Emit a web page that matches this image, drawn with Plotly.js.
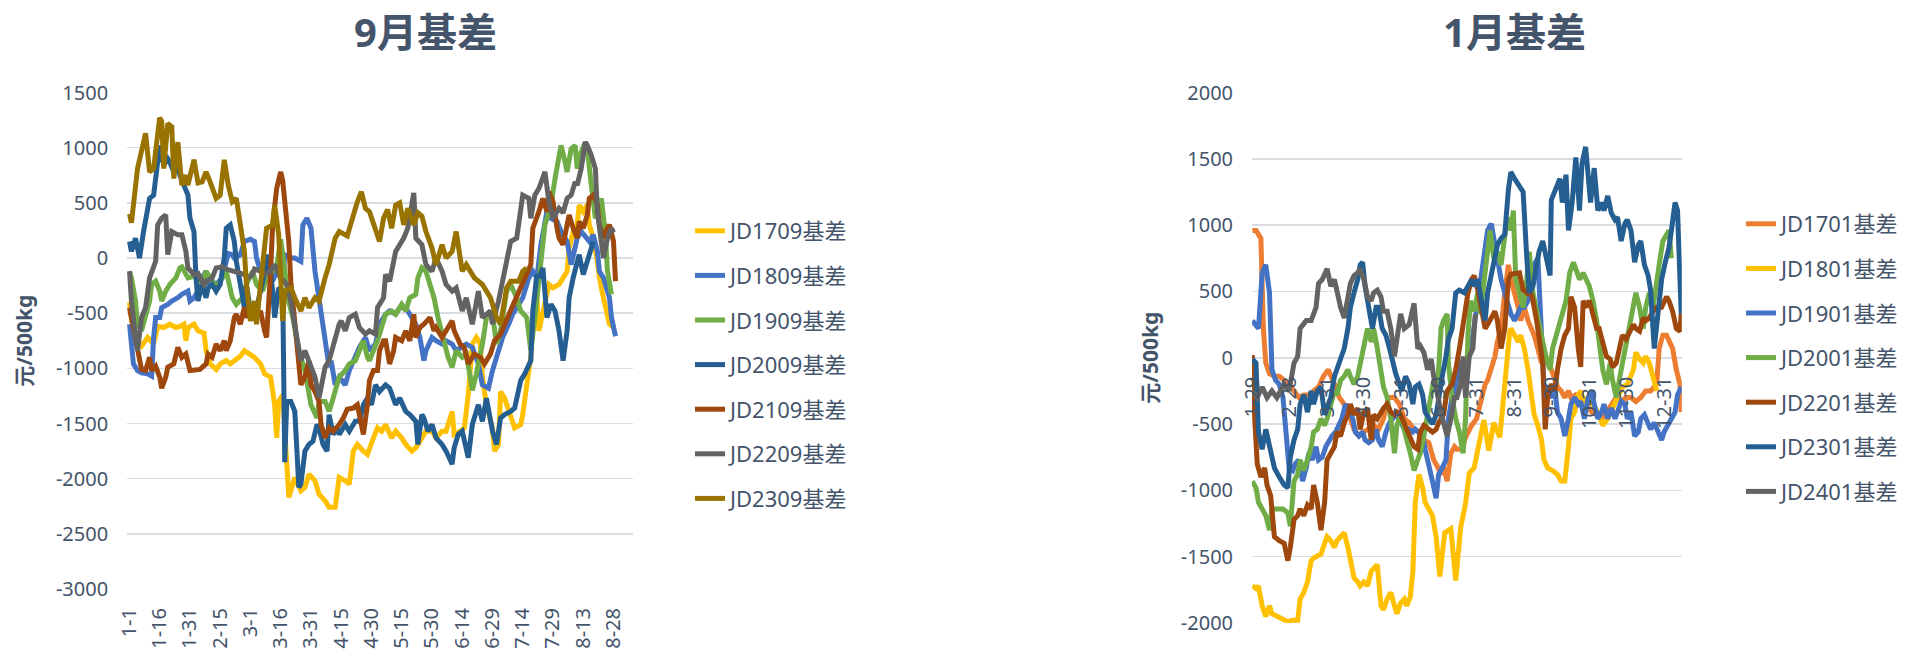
<!DOCTYPE html>
<html><head><meta charset="utf-8">
<script src="https://cdn.plot.ly/plotly-3.0.1.min.js"></script>
<style>html,body{margin:0;padding:0;background:#fff}#chart{width:1905px;height:650px}</style>
</head><body><div id="chart"></div>
<script>
// ---------- 9月基差 (x = day offset from 1-1, leap-year calendar) ----------
const ticks9Days = [0,15,30,45,60,75,90,105,120,135,150,165,180,195,210,225,240];
const ticks9Text = ['1-1','1-16','1-31','2-15','3-1','3-16','3-31','4-15','4-30','5-15','5-30','6-14','6-29','7-14','7-29','8-13','8-28'];
const yTicks9 = [-3000,-2500,-2000,-1500,-1000,-500,0,500,1000,1500];
const yTicks9Text = ['-3000','-2500','-2000','-1500','-1000','-500','0','500','1000','1500'];

const jd1709 = [[0,-400],[1,-550],[3,-750],[6,-800],[9,-720],[12,-780],[14,-620],[17,-630],[20,-600],[23,-630],[25,-620],[27,-600],[28,-750],[29,-630],[32,-600],[34,-660],[37,-680],[38,-840],[40,-960],[43,-1010],[45,-960],[48,-930],[50,-960],[52,-930],[55,-890],[57,-840],[60,-870],[62,-900],[65,-960],[67,-1050],[70,-1080],[72,-1330],[73,-1630],[74,-1300],[76,-1240],[77,-1500],[79,-2170],[82,-1990],[85,-2110],[87,-2080],[89,-1960],[92,-2020],[94,-2140],[97,-2200],[99,-2260],[102,-2260],[104,-1990],[107,-2020],[109,-2050],[111,-1750],[113,-1690],[116,-1750],[118,-1780],[121,-1630],[123,-1540],[125,-1570],[127,-1510],[130,-1630],[132,-1570],[135,-1630],[137,-1690],[140,-1750],[142,-1720],[145,-1630],[147,-1570],[150,-1570],[152,-1630],[155,-1570],[157,-1570],[160,-1390],[161,-1600],[164,-1570],[166,-1540],[168,-1240],[170,-780],[172,-720],[174,-780],[175,-1080],[177,-1330],[180,-1540],[181,-1750],[183,-1690],[184,-1210],[186,-1270],[189,-1450],[191,-1540],[194,-1510],[195,-1420],[197,-1150],[199,-900],[200,-540],[202,-360],[203,-660],[205,-480],[207,-300],[208,-240],[210,-270],[213,-240],[215,-180],[217,-120],[218,90],[220,240],[222,300],[223,480],[225,420],[227,480],[228,300],[230,180],[232,-30],[233,-180],[235,-360],[237,-540],[238,-600],[240,-630]];

const jd1809 = [[0,-600],[1,-840],[2,-960],[4,-1020],[6,-1040],[9,-1050],[11,-1070],[12,-720],[13,-540],[15,-540],[16,-450],[19,-420],[21,-390],[24,-360],[26,-330],[29,-300],[30,-390],[32,-360],[34,-300],[35,-210],[38,-120],[39,-240],[41,-210],[43,-240],[46,-180],[48,-30],[49,40],[51,30],[52,0],[55,30],[57,150],[60,170],[62,150],[63,0],[65,-120],[67,-60],[68,-120],[71,-210],[73,-120],[76,-210],[77,30],[80,0],[82,0],[85,-30],[86,300],[88,360],[90,270],[92,-120],[94,-360],[95,-540],[97,-780],[99,-990],[100,-930],[102,-1150],[104,-1080],[107,-1150],[109,-1020],[112,-900],[114,-810],[117,-720],[119,-840],[122,-780],[124,-600],[127,-510],[129,-480],[132,-510],[134,-450],[137,-450],[139,-510],[142,-600],[144,-720],[146,-930],[147,-840],[150,-720],[152,-750],[155,-780],[157,-750],[160,-780],[162,-840],[165,-810],[167,-780],[170,-810],[173,-960],[175,-1150],[178,-1180],[180,-1020],[183,-840],[185,-720],[188,-600],[190,-510],[193,-420],[195,-360],[197,-240],[198,-180],[200,-120],[202,-180],[204,120],[207,420],[209,360],[212,330],[214,240],[217,150],[219,-60],[222,180],[224,240],[227,180],[228,150],[230,210],[232,60],[233,-120],[235,-180],[236,-240],[238,-360],[239,-540],[240,-660],[241,-710]];

const jd1909 = [[0,-120],[1,-180],[3,-390],[4,-600],[6,-660],[8,-510],[10,-390],[11,-240],[13,-210],[15,-300],[16,-390],[18,-300],[20,-240],[23,-180],[25,-90],[26,-80],[29,-180],[31,-170],[34,-170],[36,-240],[38,-120],[41,-210],[43,-270],[46,-180],[48,-120],[51,-360],[53,-420],[56,-360],[58,-240],[61,-120],[63,-240],[66,-300],[68,-180],[71,-120],[73,-80],[75,170],[77,-120],[79,-390],[81,-540],[84,-840],[87,-1020],[89,-1200],[90,-1330],[93,-1450],[94,-1300],[97,-1300],[99,-1390],[101,-1270],[103,-1150],[104,-1080],[107,-1020],[109,-960],[112,-930],[114,-840],[116,-750],[118,-900],[119,-930],[121,-840],[123,-750],[126,-570],[127,-510],[130,-480],[132,-510],[135,-420],[137,-480],[139,-360],[142,-330],[143,-180],[145,-90],[147,-120],[149,-240],[151,-360],[153,-540],[156,-780],[158,-900],[160,-990],[162,-840],[165,-900],[167,-870],[169,-1080],[170,-1200],[172,-1050],[175,-780],[177,-540],[180,-510],[182,-780],[184,-660],[187,-300],[189,-240],[192,-360],[194,-480],[197,-540],[199,-840],[201,-540],[203,-240],[204,0],[206,300],[208,420],[209,480],[211,720],[213,960],[214,1020],[216,870],[217,780],[219,990],[221,1020],[222,810],[224,960],[226,1050],[227,990],[229,660],[231,360],[232,390],[234,540],[236,210],[237,-120],[239,-330]];

const jd2009 = [[0,150],[1,60],[3,180],[4,60],[5,0],[7,240],[9,420],[10,540],[12,570],[14,870],[15,1020],[17,840],[19,900],[20,870],[22,780],[24,830],[25,750],[27,660],[29,570],[30,360],[32,240],[33,-180],[34,-390],[36,-240],[38,-360],[39,-270],[41,-240],[43,-300],[45,-240],[47,0],[48,270],[50,300],[52,150],[53,-30],[55,-240],[57,-450],[58,-240],[60,-480],[62,-540],[64,-390],[66,-240],[67,-120],[69,30],[71,-300],[72,-540],[74,-270],[76,-300],[77,-1850],[78,-1300],[80,-1300],[82,-1390],[84,-2080],[85,-2050],[87,-1750],[89,-1690],[91,-1660],[93,-1510],[94,-1540],[96,-1690],[98,-1750],[99,-1420],[101,-1600],[103,-1540],[104,-1600],[107,-1510],[109,-1570],[112,-1480],[114,-1480],[116,-1330],[118,-1270],[120,-1330],[122,-1150],[124,-1210],[127,-1150],[129,-1180],[132,-1330],[134,-1270],[137,-1390],[139,-1420],[142,-1480],[143,-1690],[145,-1420],[146,-1450],[148,-1570],[150,-1510],[152,-1630],[155,-1690],[157,-1750],[160,-1870],[161,-1720],[163,-1600],[165,-1570],[168,-1810],[170,-1510],[173,-1330],[175,-1480],[177,-1270],[180,-1570],[182,-1690],[184,-1450],[186,-1420],[189,-1390],[191,-1360],[194,-1110],[196,-1050],[199,-930],[200,-480],[202,-150],[203,-180],[205,-90],[207,-540],[209,-420],[211,-480],[213,-660],[215,-930],[217,-660],[218,-360],[220,-180],[222,-60],[223,30],[225,-150],[227,-30],[228,0],[230,150]];

const jd2109 = [[0,-450],[1,-540],[3,-750],[5,-930],[6,-1010],[8,-1020],[10,-900],[11,-1020],[13,-980],[15,-1080],[16,-1180],[18,-1080],[19,-990],[22,-960],[24,-810],[26,-900],[28,-870],[30,-1020],[33,-1020],[35,-1010],[38,-960],[39,-870],[41,-900],[43,-780],[45,-840],[47,-750],[48,-840],[50,-750],[52,-540],[53,-510],[55,-600],[57,-450],[58,-540],[60,-480],[62,-540],[65,-480],[67,-660],[68,-720],[70,-120],[71,300],[73,630],[75,780],[76,700],[77,480],[79,150],[80,-210],[82,-600],[84,-1020],[85,-1150],[87,-1080],[89,-930],[90,-1150],[92,-1210],[94,-1300],[95,-1510],[97,-1630],[99,-1540],[101,-1570],[104,-1510],[106,-1450],[108,-1370],[111,-1360],[113,-1330],[116,-1600],[118,-1330],[119,-1110],[121,-1020],[123,-1020],[124,-840],[126,-750],[127,-750],[129,-960],[131,-840],[132,-720],[135,-750],[137,-660],[139,-750],[141,-510],[142,-720],[144,-630],[146,-600],[149,-540],[151,-660],[152,-630],[155,-720],[157,-660],[160,-570],[161,-660],[164,-780],[166,-810],[168,-960],[171,-870],[174,-900],[176,-960],[179,-870],[181,-750],[184,-690],[186,-600],[189,-480],[191,-390],[194,-270],[196,-180],[199,-60],[200,270],[202,360],[203,420],[205,540],[207,420],[208,600],[210,510],[212,270],[213,180],[215,120],[217,300],[218,390],[220,270],[222,180],[223,330],[225,270],[227,390],[228,540],[230,570],[232,480],[233,300],[235,180],[237,270],[238,300],[240,150],[241,-210]];

const jd2209 = [[0,-120],[1,-390],[3,-720],[4,-840],[6,-540],[8,-450],[10,-180],[11,-120],[13,-30],[14,300],[16,360],[18,390],[19,30],[21,240],[24,210],[26,210],[28,60],[29,-90],[32,-150],[34,-140],[37,-240],[38,-210],[41,-180],[43,-90],[46,-80],[48,-100],[51,-120],[54,-140],[57,-150],[59,-180],[61,-150],[62,-100],[65,-120],[67,-150],[70,-120],[72,-60],[75,-180],[78,-240],[80,-390],[83,-720],[85,-930],[87,-840],[89,-930],[92,-1080],[94,-1270],[97,-990],[99,-930],[101,-780],[104,-600],[105,-570],[107,-660],[109,-540],[112,-510],[114,-630],[117,-690],[119,-660],[122,-690],[123,-450],[126,-360],[127,-150],[129,-210],[132,60],[134,120],[136,180],[138,270],[140,480],[141,590],[142,180],[145,120],[147,-60],[150,-120],[152,0],[155,-120],[157,-240],[160,-300],[162,-270],[165,-480],[167,-360],[169,-510],[170,-600],[173,-300],[175,-540],[179,-480],[180,-600],[183,-390],[185,-210],[187,-30],[189,150],[192,180],[194,420],[195,570],[198,540],[199,360],[201,570],[203,630],[206,780],[208,510],[210,360],[213,450],[215,410],[217,540],[219,570],[221,690],[222,660],[224,810],[226,1050],[227,1020],[229,930],[231,810],[232,420],[234,90],[235,0],[237,180],[239,270],[240,230]];

const jd2309 = [[0,400],[1,320],[4,810],[5,890],[8,1130],[10,780],[12,810],[15,1270],[16,1240],[17,810],[19,1220],[21,1190],[22,720],[24,1050],[26,660],[28,750],[29,660],[32,890],[34,680],[36,690],[38,780],[40,690],[43,540],[45,570],[47,890],[49,660],[51,510],[53,540],[55,270],[57,60],[58,-240],[60,-570],[62,-390],[63,-600],[65,-240],[67,90],[68,270],[71,300],[72,480],[74,210],[76,-570],[77,-300],[80,-270],[82,-360],[85,-480],[87,-360],[89,-450],[92,-360],[94,-390],[97,-180],[99,-60],[102,180],[104,240],[108,200],[110,330],[113,510],[115,600],[117,450],[119,420],[121,300],[124,150],[126,360],[128,440],[130,270],[132,480],[134,500],[136,300],[138,450],[141,300],[143,410],[145,380],[147,240],[150,90],[152,-60],[155,120],[157,0],[160,60],[162,240],[165,-120],[167,-60],[171,-180],[175,-240],[179,-360],[182,-540],[184,-600],[187,-270],[189,-210],[193,-210],[195,-120],[197,-90]];

// ---------- 1月基差 (x = day offset from 1-29, common-year calendar) ----------
const ticks1Days = [0,30,61,91,122,152,183,214,244,275,305,336];
const ticks1Text = ['1-29','2-28','3-31','4-30','5-31','6-30','7-31','8-31','9-30','10-31','11-30','12-31'];
const yTicks1 = [-2000,-1500,-1000,-500,0,500,1000,1500,2000];
const yTicks1Text = ['-2000','-1500','-1000','-500','0','500','1000','1500','2000'];

const jd1701 = [[0,960],[3,960],[5,930],[7,900],[9,220],[11,-40],[14,-120],[18,-140],[22,-140],[26,-170],[30,-200],[34,-250],[38,-300],[42,-280],[46,-280],[50,-250],[54,-220],[58,-140],[62,-90],[67,-200],[71,-300],[75,-350],[79,-430],[83,-540],[87,-590],[91,-560],[95,-540],[99,-510],[103,-540],[107,-460],[111,-300],[116,-300],[120,-350],[124,-460],[128,-490],[132,-540],[136,-560],[140,-620],[144,-640],[148,-770],[151,-820],[154,-880],[156,-820],[159,-930],[162,-720],[165,-670],[167,-690],[171,-690],[174,-600],[179,-510],[183,-460],[187,-300],[190,-200],[192,-170],[195,-90],[198,10],[200,120],[203,220],[206,490],[209,700],[211,590],[214,490],[217,380],[219,280],[222,380],[225,280],[228,220],[230,170],[233,70],[236,-40],[238,10],[241,-10],[244,-90],[247,-170],[249,-220],[252,-250],[255,-300],[258,-250],[260,-300],[264,-280],[268,-300],[272,-350],[277,-410],[281,-430],[285,-460],[289,-410],[293,-350],[297,-300],[301,-330],[305,-300],[309,-300],[313,-330],[317,-300],[321,-250],[325,-250],[330,-200],[332,70],[335,170],[338,170],[340,120],[343,70],[346,-90],[349,-200],[350,-410]];

const jd1801 = [[0,-1720],[3,-1740],[5,-1720],[8,-1870],[11,-1950],[14,-1870],[16,-1930],[20,-1950],[25,-1980],[29,-1990],[33,-1980],[37,-1980],[39,-1820],[42,-1770],[45,-1690],[48,-1530],[50,-1510],[53,-1490],[56,-1480],[59,-1400],[61,-1350],[64,-1380],[67,-1430],[69,-1380],[72,-1350],[75,-1320],[78,-1430],[80,-1510],[83,-1660],[86,-1690],[88,-1720],[91,-1690],[94,-1720],[97,-1610],[99,-1590],[102,-1560],[105,-1870],[107,-1900],[110,-1820],[113,-1770],[116,-1870],[118,-1930],[121,-1850],[124,-1820],[126,-1870],[129,-1800],[131,-1610],[133,-1090],[136,-880],[139,-980],[141,-1090],[144,-1140],[147,-1190],[150,-1350],[153,-1650],[157,-1320],[162,-1290],[166,-1680],[170,-1280],[174,-1100],[177,-870],[181,-830],[185,-670],[189,-470],[193,-700],[197,-490],[202,-600],[206,-150],[210,190],[211,220],[214,170],[217,120],[219,170],[222,70],[225,-90],[228,-300],[230,-430],[233,-510],[236,-620],[238,-770],[241,-830],[245,-850],[249,-880],[252,-930],[255,-930],[258,-670],[260,-460],[263,-410],[266,-280],[268,-250],[271,-350],[274,-300],[278,-350],[282,-410],[286,-510],[290,-460],[294,-380],[298,-300],[302,-220],[306,-200],[311,-90],[313,40],[316,-10],[319,-40],[321,10],[324,-40],[327,-140],[330,-250]];

const jd1901 = [[0,280],[3,250],[5,220],[8,640],[11,700],[14,490],[16,-90],[19,-170],[22,-200],[25,-300],[27,-540],[30,-830],[33,-850],[35,-800],[38,-770],[41,-930],[44,-830],[46,-720],[49,-770],[52,-670],[54,-770],[57,-750],[60,-670],[63,-620],[65,-590],[68,-560],[71,-510],[73,-460],[76,-350],[79,-410],[82,-460],[84,-560],[87,-590],[90,-560],[92,-620],[95,-640],[98,-620],[101,-540],[103,-620],[106,-670],[109,-560],[112,-490],[114,-460],[117,-430],[120,-460],[122,-510],[125,-560],[128,-540],[131,-560],[133,-540],[136,-560],[139,-590],[141,-690],[144,-830],[147,-930],[150,-1060],[152,-880],[155,-830],[158,-770],[160,-460],[163,-300],[166,-200],[169,-40],[173,-40],[176,-40],[180,170],[184,430],[188,750],[192,960],[195,1010],[198,850],[200,700],[203,590],[206,490],[209,380],[211,330],[214,280],[217,330],[219,380],[222,380],[225,430],[228,590],[230,700],[233,750],[236,220],[238,-200],[241,-250],[244,-300],[247,-250],[249,-410],[252,-460],[255,-590],[258,-460],[260,-350],[263,-300],[266,-350],[268,-330],[271,-460],[274,-300],[277,-250],[279,-350],[282,-460],[285,-410],[287,-350],[290,-460],[293,-380],[296,-460],[298,-410],[301,-330],[304,-350],[306,-460],[309,-410],[312,-590],[315,-560],[317,-460],[320,-430],[323,-510],[325,-540],[328,-490],[331,-560],[334,-620],[336,-560],[339,-510],[342,-460],[345,-410],[347,-280],[350,-220]];

const jd2001 = [[0,-930],[3,-980],[5,-1090],[8,-1140],[11,-1190],[14,-1300],[16,-1140],[20,-1140],[25,-1140],[29,-1170],[31,-1270],[34,-930],[37,-880],[39,-770],[42,-850],[45,-770],[48,-670],[50,-560],[53,-540],[56,-460],[59,-510],[61,-460],[64,-350],[67,-250],[69,-280],[72,-170],[75,-140],[78,-90],[80,-140],[83,-200],[86,-140],[88,-40],[91,120],[94,220],[97,120],[99,220],[102,70],[105,-140],[107,-220],[110,-300],[113,-460],[116,-720],[118,-510],[121,-430],[124,-560],[126,-620],[129,-720],[132,-850],[135,-770],[137,-720],[140,-590],[143,-410],[146,-250],[148,-170],[151,-250],[154,220],[156,280],[159,330],[160,-40],[163,-300],[166,-460],[169,-560],[172,-720],[174,-460],[176,170],[178,430],[181,350],[184,490],[186,330],[189,590],[192,800],[194,960],[197,750],[200,800],[203,700],[205,850],[208,1060],[211,960],[213,1110],[215,590],[218,490],[221,380],[224,590],[226,800],[229,490],[232,350],[234,220],[237,120],[240,-10],[243,-90],[245,70],[248,170],[251,280],[253,330],[256,430],[259,640],[262,720],[264,670],[267,590],[270,640],[272,590],[275,540],[278,430],[281,280],[283,120],[286,-90],[289,-200],[292,-40],[294,-170],[297,-300],[300,-140],[302,-40],[305,120],[308,220],[311,380],[313,490],[316,380],[319,220],[321,380],[324,490],[327,380],[330,540],[332,700],[335,880],[338,930],[340,960],[342,750]];

const jd2201 = [[0,20],[1,-300],[4,-800],[7,-900],[10,-830],[12,-960],[15,-1040],[18,-1350],[22,-1380],[26,-1400],[29,-1530],[31,-1430],[34,-1220],[37,-1190],[39,-1140],[42,-1190],[45,-1110],[48,-1140],[50,-960],[53,-1090],[56,-1300],[59,-1090],[61,-770],[64,-720],[67,-670],[69,-560],[72,-590],[75,-490],[78,-430],[80,-350],[83,-430],[86,-380],[88,-540],[91,-410],[94,-380],[97,-620],[99,-430],[102,-460],[105,-410],[107,-380],[110,-350],[113,-410],[116,-430],[118,-410],[121,-430],[124,-490],[126,-540],[129,-590],[132,-670],[135,-690],[137,-560],[140,-510],[144,-540],[147,-560],[150,-540],[152,-490],[156,-430],[159,-250],[163,-200],[166,-90],[169,70],[173,280],[176,490],[179,590],[181,620],[184,510],[187,350],[190,220],[192,250],[195,300],[198,350],[200,280],[203,70],[206,220],[209,590],[211,630],[215,640],[218,640],[221,510],[224,490],[226,540],[229,430],[232,280],[234,170],[237,-40],[239,-540],[241,-300],[244,-200],[247,-250],[249,-90],[252,70],[255,170],[258,220],[260,460],[263,380],[266,70],[268,-70],[270,430],[272,380],[275,430],[278,330],[281,220],[283,220],[286,120],[289,10],[292,-10],[294,-70],[297,-40],[300,90],[302,170],[305,140],[308,200],[311,250],[313,220],[316,200],[319,300],[321,280],[324,300],[327,350],[330,380],[334,380],[338,460],[340,430],[343,350],[346,220],[349,200],[350,330]];

const jd2301 = [[0,-10],[3,-40],[5,-560],[8,-690],[11,-540],[14,-670],[18,-830],[22,-900],[26,-960],[29,-980],[31,-750],[34,-620],[37,-540],[39,-350],[42,-280],[45,-410],[48,-250],[50,-350],[53,-250],[56,-220],[59,-430],[61,-380],[64,-300],[67,-140],[69,-90],[72,10],[75,70],[78,220],[80,380],[83,490],[86,590],[88,700],[90,720],[92,540],[95,380],[98,220],[101,380],[103,380],[106,220],[109,170],[112,70],[114,-10],[117,-120],[120,-200],[122,-250],[125,-140],[128,-200],[131,-350],[133,-220],[136,-200],[139,-280],[141,-410],[144,-460],[147,-500],[150,-430],[152,-300],[155,-140],[158,10],[160,140],[163,220],[166,490],[169,510],[173,490],[176,540],[179,590],[181,540],[184,590],[187,430],[190,280],[192,490],[195,640],[198,750],[200,850],[203,900],[206,930],[209,1270],[211,1400],[214,1350],[217,1300],[221,1250],[224,750],[226,490],[229,540],[232,700],[234,800],[237,880],[240,750],[243,620],[244,1190],[247,1250],[251,1350],[253,1170],[256,1380],[258,960],[261,1170],[264,1510],[267,1110],[269,1460],[272,1590],[274,1380],[276,1170],[279,1430],[282,1110],[285,1170],[287,1110],[290,1220],[293,1090],[296,1040],[298,1060],[301,880],[304,1010],[306,1040],[309,960],[312,720],[315,850],[317,880],[320,700],[323,620],[325,510],[328,70],[331,380],[334,590],[337,720],[340,830],[342,960],[345,1170],[347,1110],[350,330]];

const jd2401 = [[0,-250],[4,-300],[8,-220],[12,-300],[16,-250],[20,-300],[26,-200],[30,-250],[34,-40],[37,10],[39,220],[44,280],[48,280],[52,380],[54,560],[57,590],[61,670],[64,540],[67,590],[69,490],[72,380],[75,300],[78,460],[80,560],[83,620],[86,640],[88,670],[91,590],[94,460],[97,430],[99,490],[102,510],[105,460],[107,350],[110,350],[113,220],[116,10],[118,170],[121,330],[124,220],[128,250],[132,410],[135,70],[137,90],[140,40],[143,-90],[146,-10],[148,-140],[151,-300],[154,-410],[156,-490],[159,-590],[162,-460],[165,-300],[167,-300],[170,-200],[172,10],[174,-300],[177,10],[180,70],[182,330]];

const TXT = '#44546A';
const FONT = 'Noto Sans, Noto Sans CJK SC, sans-serif';
const GRID = '#D9DDE3';

function line(name, pts, color, xa, ya, lg) {
  return {type:'scatter', mode:'lines', name:name,
    x: pts.map(p => p[0]), y: pts.map(p => p[1]),
    line:{color:color, width:5}, xaxis:xa, yaxis:ya,
    legend:lg, legendgroup:name, hoverinfo:'skip'};
}

const traces = [
  line('JD1709基差', jd1709, '#FFC000', 'x', 'y', 'legend'),
  line('JD1809基差', jd1809, '#4472C4', 'x', 'y', 'legend'),
  line('JD1909基差', jd1909, '#70AD47', 'x', 'y', 'legend'),
  line('JD2009基差', jd2009, '#255E91', 'x', 'y', 'legend'),
  line('JD2109基差', jd2109, '#9E480E', 'x', 'y', 'legend'),
  line('JD2209基差', jd2209, '#636363', 'x', 'y', 'legend'),
  line('JD2309基差', jd2309, '#997300', 'x', 'y', 'legend'),
  line('JD1701基差', jd1701, '#ED7D31', 'x2', 'y2', 'legend2'),
  line('JD1801基差', jd1801, '#FFC000', 'x2', 'y2', 'legend2'),
  line('JD1901基差', jd1901, '#4472C4', 'x2', 'y2', 'legend2'),
  line('JD2001基差', jd2001, '#70AD47', 'x2', 'y2', 'legend2'),
  line('JD2201基差', jd2201, '#9E480E', 'x2', 'y2', 'legend2'),
  line('JD2301基差', jd2301, '#255E91', 'x2', 'y2', 'legend2'),
  line('JD2401基差', jd2401, '#636363', 'x2', 'y2', 'legend2')
];

const W = 1905, H = 650;
const tickFont = {family:FONT, size:20, color:TXT};
const legendFont = {family:FONT, size:22, color:TXT};
const yTitleFont = {family:FONT, size:21, color:TXT, weight:'bold'};

const layout = {
  width:W, height:H, margin:{l:0,r:0,t:0,b:0},
  paper_bgcolor:'#fff', plot_bgcolor:'#fff',
  showlegend:true,
  font:{family:FONT, color:TXT},
  xaxis:{domain:[127.2/W, 633/W], range:[-1.14, 249.5], anchor:'y',
    tickmode:'array', tickvals:ticks9Days, ticktext:ticks9Text, tickangle:-90,
    showgrid:false, zeroline:false, showline:false, ticks:'', tickfont:tickFont,
    ticklabelstandoff:14, automargin:false, fixedrange:true},
  yaxis:{domain:[1-589/H, 1-92.5/H], range:[-3000,1500], anchor:'x',
    tickmode:'array', tickvals:yTicks9, ticktext:yTicks9Text,
    showgrid:true, gridcolor:GRID, gridwidth:1.5, zeroline:false, showline:false, ticks:'',
    tickfont:tickFont, ticklabelstandoff:18, automargin:false,
    title:{text:'元/500kg', font:yTitleFont, standoff:17}},
  xaxis2:{domain:[1252.7/W, 1682.7/W], range:[-0.24, 350.5], anchor:'free', position:1-357.7/H,
    tickmode:'array', tickvals:ticks1Days, ticktext:ticks1Text, tickangle:-90,
    showgrid:false, zeroline:false, showline:false, ticks:'', tickfont:tickFont,
    ticklabelstandoff:14, automargin:false},
  yaxis2:{domain:[1-623/H, 1-92.5/H], range:[-2000,2000], anchor:'x2',
    tickmode:'array', tickvals:yTicks1, ticktext:yTicks1Text,
    showgrid:true, gridcolor:GRID, gridwidth:1.5, zeroline:false, showline:false, ticks:'',
    tickfont:tickFont, ticklabelstandoff:18, automargin:false,
    title:{text:'元/500kg', font:yTitleFont, standoff:16}},
  legend:{x:690/W, y:1-210/H, xanchor:'left', yanchor:'top', font:legendFont,
    tracegroupgap:13, bgcolor:'rgba(0,0,0,0)', borderwidth:0},
  legend2:{x:1742/W, y:1-203/H, xanchor:'left', yanchor:'top', font:legendFont,
    tracegroupgap:13, bgcolor:'rgba(0,0,0,0)', borderwidth:0},
  annotations:[
    {text:'9月基差', xref:'paper', yref:'paper', x:426/W, y:1-32/H, xanchor:'center', yanchor:'middle',
     showarrow:false, font:{family:FONT, size:40, color:TXT, weight:'bold'}},
    {text:'1月基差', xref:'paper', yref:'paper', x:1515/W, y:1-32/H, xanchor:'center', yanchor:'middle',
     showarrow:false, font:{family:FONT, size:40, color:TXT, weight:'bold'}}
  ]
};

Plotly.newPlot('chart', traces, layout, {displayModeBar:false, staticPlot:true});
</script></body></html>
